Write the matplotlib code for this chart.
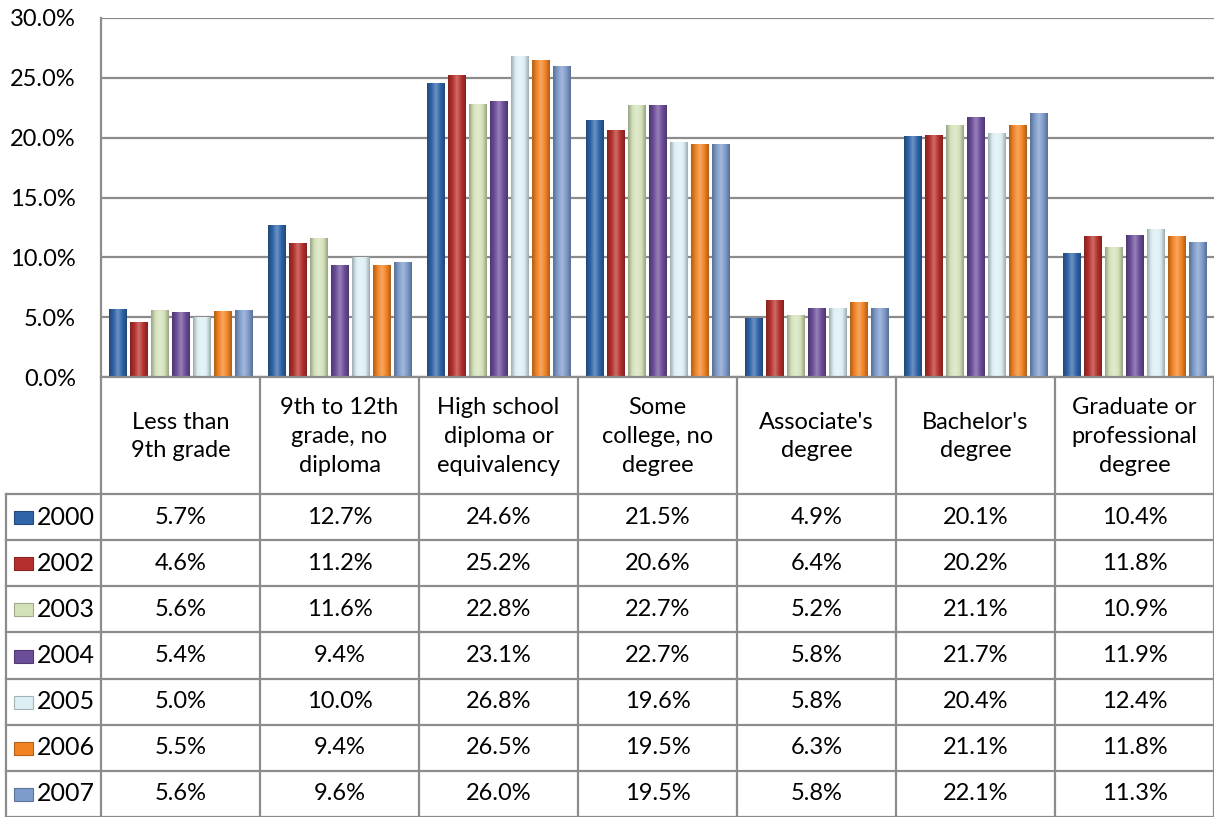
import matplotlib.pyplot as plt
import matplotlib.colors as mcolors
import numpy as np

plt.rcParams['font.family'] = ['Lato', 'DejaVu Sans']

categories = ["Less than\n9th grade", "9th to 12th\ngrade, no\ndiploma",
              "High school\ndiploma or\nequivalency", "Some\ncollege, no\ndegree",
              "Associate's\ndegree", "Bachelor's\ndegree",
              "Graduate or\nprofessional\ndegree"]
years = ["2000", "2002", "2003", "2004", "2005", "2006", "2007"]
values = {
    "2000": [5.7, 12.7, 24.6, 21.5, 4.9, 20.1, 10.4],
    "2002": [4.6, 11.2, 25.2, 20.6, 6.4, 20.2, 11.8],
    "2003": [5.6, 11.6, 22.8, 22.7, 5.2, 21.1, 10.9],
    "2004": [5.4, 9.4, 23.1, 22.7, 5.8, 21.7, 11.9],
    "2005": [5.0, 10.0, 26.8, 19.6, 5.8, 20.4, 12.4],
    "2006": [5.5, 9.4, 26.5, 19.5, 6.3, 21.1, 11.8],
    "2007": [5.6, 9.6, 26.0, 19.5, 5.8, 22.1, 11.3],
}
colors = ["#2F64A8", "#B5302C", "#D4E2BA", "#6C4D9A", "#DCEFF4", "#F28323", "#7D9BCB"]
yticks = [0, 5, 10, 15, 20, 25, 30]

W, H = 1214, 817
fig = plt.figure(figsize=(W / 100, H / 100), dpi=100)
fig.patch.set_facecolor("white")

# pixel layout
x0, col_w = 101, 159
y_top, y_base = 18, 377
y_head = 494
row_h = (817 - y_head) / 7
grid_c = "#8C8C8C"
fs = 17

ax = fig.add_axes([x0 / W, 1 - y_base / H, (W - x0) / W, (y_base - y_top) / H])
ax.set_xlim(0, len(categories))
ax.set_ylim(0, 30)
ax.set_yticks(yticks)
ax.set_yticklabels(["%.1f%%" % v for v in yticks], fontsize=fs)
ax.tick_params(axis="y", length=0, pad=18)
ax.set_xticks([])
ax.yaxis.grid(True, color=grid_c, lw=1.6)
ax.set_axisbelow(True)
for s in ["top", "right", "bottom"]:
    ax.spines[s].set_visible(False)
ax.spines["left"].set_color(grid_c)
ax.spines["left"].set_linewidth(1.6)

pitch, bw = 0.132, 0.11
x = np.arange(len(categories)) + 0.5
for j, yr in enumerate(years):
    base = np.array(mcolors.to_rgb(colors[j]))
    dark = base * 0.72
    light = base + (1 - base) * 0.3
    cmap = mcolors.LinearSegmentedColormap.from_list(
        "g%d" % j, [dark, base, light, base, dark])
    grad = np.linspace(0, 1, 64).reshape(1, -1)
    bars = ax.bar(x + (j - 3) * pitch, values[yr], bw, color=colors[j],
                  edgecolor=dark, lw=0.6, zorder=2)
    for b in bars:
        bx, by = b.get_x(), b.get_y()
        im = ax.imshow(grad, cmap=cmap, aspect="auto", zorder=2.5,
                       extent=(bx, bx + b.get_width(), by, by + b.get_height()))
        im.set_clip_path(b)
ax.set_xlim(0, len(categories))
ax.set_ylim(0, 30)

# data table drawn in pixel space
t = fig.add_axes([0, 0, 1, 1])
t.set_xlim(0, W)
t.set_ylim(H, 0)
t.axis("off")

xs = [x0 + i * col_w for i in range(len(categories) + 1)]
t.plot([x0, W], [y_base, y_base], color=grid_c, lw=1.6)
for xx in xs:
    t.plot([xx, xx], [y_base, H], color=grid_c, lw=1.6)
t.plot([6, 6], [y_head, H], color=grid_c, lw=1.6)
for r in range(8):
    yy = y_head + r * row_h
    t.plot([6, W], [yy, yy], color=grid_c, lw=1.6)

for i, cat in enumerate(categories):
    t.text(x0 + (i + 0.5) * col_w, (y_base + y_head) / 2 + 1, cat, ha="center",
           va="center", fontsize=fs, linespacing=1.45)

for r, yr in enumerate(years):
    yc = y_head + (r + 0.5) * row_h
    t.add_patch(plt.Rectangle((14, yc - 6), 19, 13, facecolor=colors[r],
                              edgecolor=np.array(mcolors.to_rgb(colors[r])) * 0.75, lw=0.8))
    t.text(37, yc, yr, ha="left", va="center", fontsize=fs + 1)
    for i, v in enumerate(values[yr]):
        t.text(x0 + (i + 0.5) * col_w, yc, "%.1f%%" % v, ha="center",
               va="center", fontsize=fs)

fig.savefig("out.png", dpi=100, facecolor="white")
